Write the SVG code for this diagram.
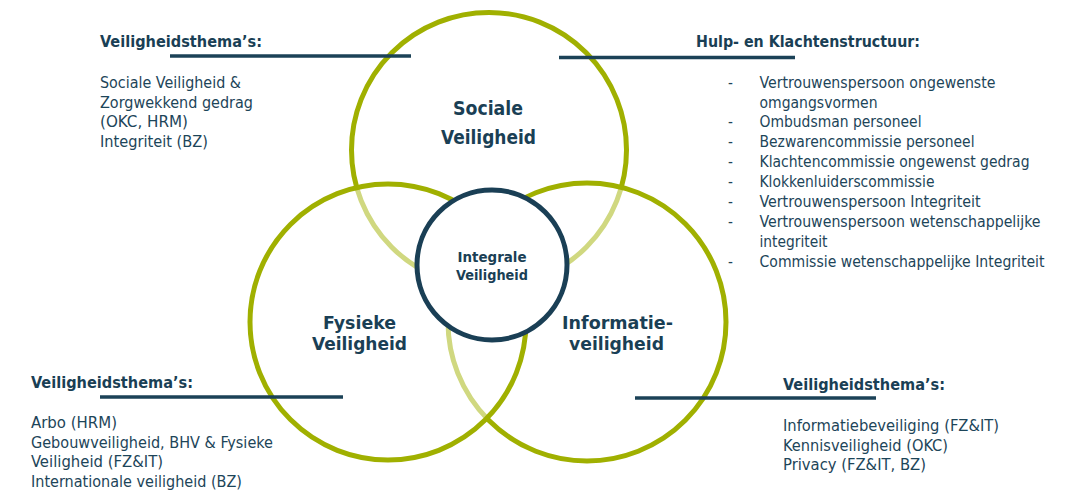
<svg xmlns="http://www.w3.org/2000/svg" width="1087" height="493" viewBox="0 0 1087 493">
  <style>
    text { font-family: "DejaVu Sans", Verdana, sans-serif; font-stretch: condensed; fill: #1d4559; }
    .body { font-size: 15px; }
    .head { font-size: 15px; font-weight: bold; fill: #1a3f55; }
    .big { font-size: 19px; font-weight: bold; fill: #1a3f55; text-anchor: middle; }
    .mid { font-size: 17.5px; font-weight: bold; fill: #1a3f55; text-anchor: middle; }
    .small { font-size: 13.5px; font-weight: bold; fill: #1a3f55; text-anchor: middle; }
    .ring { fill: #ffffff; fill-opacity: 0.5; stroke: #a0b000; stroke-width: 5; }
    .core { fill: #ffffff; stroke: #1a3f55; stroke-width: 5; }
    .lead { stroke: #1b4257; stroke-width: 3.5; fill: none; }
  </style>

  <rect width="1087" height="493" fill="#ffffff"/>

  <!-- rings: each translucent white fill softens the arcs of rings drawn before it -->
  <g id="ring-sociaal">
    <circle class="ring" cx="489" cy="150" r="137.5"/>
  </g>
  <g id="ring-informatie">
    <circle class="ring" cx="587" cy="322" r="139"/>
  </g>
  <g id="ring-fysiek">
    <circle class="ring" cx="388" cy="322" r="138"/>
  </g>
  <g id="core-integraal">
    <circle class="core" cx="492" cy="265" r="75"/>
    <text class="small" x="492" y="262" textLength="69" lengthAdjust="spacingAndGlyphs">Integrale</text>
    <text class="small" x="492" y="279.5" textLength="72" lengthAdjust="spacingAndGlyphs">Veiligheid</text>
  </g>

  <!-- ring titles -->
  <g id="label-sociaal">
    <text class="big" x="488" y="115" textLength="70" lengthAdjust="spacingAndGlyphs">Sociale</text>
    <text class="big" x="488.5" y="144" textLength="95" lengthAdjust="spacingAndGlyphs">Veiligheid</text>
  </g>
  <g id="label-fysiek">
    <text class="mid" x="359.5" y="328.5" textLength="73" lengthAdjust="spacingAndGlyphs">Fysieke</text>
    <text class="mid" x="359.5" y="349.5" textLength="95" lengthAdjust="spacingAndGlyphs">Veiligheid</text>
  </g>
  <g id="label-informatie">
    <text class="mid" x="617.5" y="328.5" textLength="111" lengthAdjust="spacingAndGlyphs">Informatie-</text>
    <text class="mid" x="616.5" y="349.5" textLength="95" lengthAdjust="spacingAndGlyphs">veiligheid</text>
  </g>

  <!-- leader lines from the text blocks into the rings -->
  <g id="connectors">
    <line class="lead" x1="170" y1="56" x2="411" y2="56"/>
    <line class="lead" x1="559" y1="57.5" x2="795" y2="57.5"/>
    <line class="lead" x1="100" y1="397" x2="343" y2="397"/>
    <line class="lead" x1="635" y1="398" x2="876" y2="398"/>
  </g>

  <!-- text blocks -->
  <g id="thema-sociaal">
    <text class="head" x="100" y="47" textLength="162" lengthAdjust="spacingAndGlyphs">Veiligheidsthema’s:</text>
    <text class="body" x="100" y="88.3" textLength="141" lengthAdjust="spacingAndGlyphs">Sociale Veiligheid &amp;</text>
    <text class="body" x="100" y="107.5" textLength="153" lengthAdjust="spacingAndGlyphs">Zorgwekkend gedrag</text>
    <text class="body" x="100" y="127" textLength="88" lengthAdjust="spacingAndGlyphs">(OKC, HRM)</text>
    <text class="body" x="100" y="146.5" textLength="108" lengthAdjust="spacingAndGlyphs">Integriteit (BZ)</text>
  </g>

  <g id="hulp-klachten">
    <text class="head" x="696" y="47.3" textLength="224" lengthAdjust="spacingAndGlyphs">Hulp- en Klachtenstructuur:</text>
    <g class="body">
      <text class="body" x="728" y="88.3">-</text>
      <text class="body" x="759.5" y="88.3" textLength="236" lengthAdjust="spacingAndGlyphs">Vertrouwenspersoon ongewenste</text>
      <text class="body" x="759.5" y="107.5" textLength="118" lengthAdjust="spacingAndGlyphs">omgangsvormen</text>
      <text class="body" x="728" y="127.3">-</text>
      <text class="body" x="759.5" y="127.3" textLength="162" lengthAdjust="spacingAndGlyphs">Ombudsman personeel</text>
      <text class="body" x="728" y="147.2">-</text>
      <text class="body" x="759.5" y="147.2" textLength="215" lengthAdjust="spacingAndGlyphs">Bezwarencommissie personeel</text>
      <text class="body" x="728" y="167.2">-</text>
      <text class="body" x="759.5" y="167.2" textLength="270" lengthAdjust="spacingAndGlyphs">Klachtencommissie ongewenst gedrag</text>
      <text class="body" x="728" y="187.2">-</text>
      <text class="body" x="759.5" y="187.2" textLength="175" lengthAdjust="spacingAndGlyphs">Klokkenluiderscommissie</text>
      <text class="body" x="728" y="207.2">-</text>
      <text class="body" x="759.5" y="207.2" textLength="221" lengthAdjust="spacingAndGlyphs">Vertrouwenspersoon Integriteit</text>
      <text class="body" x="728" y="227.2">-</text>
      <text class="body" x="759.5" y="227.2" textLength="281" lengthAdjust="spacingAndGlyphs">Vertrouwenspersoon wetenschappelijke</text>
      <text class="body" x="759.5" y="246.7" textLength="68" lengthAdjust="spacingAndGlyphs">integriteit</text>
      <text class="body" x="728" y="266.7">-</text>
      <text class="body" x="759.5" y="266.7" textLength="285" lengthAdjust="spacingAndGlyphs">Commissie wetenschappelijke Integriteit</text>
    </g>
  </g>

  <g id="thema-fysiek">
    <text class="head" x="31" y="387.7" textLength="162" lengthAdjust="spacingAndGlyphs">Veiligheidsthema’s:</text>
    <text class="body" x="31" y="428.3" textLength="86" lengthAdjust="spacingAndGlyphs">Arbo (HRM)</text>
    <text class="body" x="31" y="447.5" textLength="242" lengthAdjust="spacingAndGlyphs">Gebouwveiligheid, BHV &amp; Fysieke</text>
    <text class="body" x="31" y="467" textLength="132" lengthAdjust="spacingAndGlyphs">Veiligheid (FZ&amp;IT)</text>
    <text class="body" x="31" y="486.5" textLength="211" lengthAdjust="spacingAndGlyphs">Internationale veiligheid (BZ)</text>
  </g>

  <g id="thema-informatie">
    <text class="head" x="783" y="390" textLength="162" lengthAdjust="spacingAndGlyphs">Veiligheidsthema’s:</text>
    <text class="body" x="783" y="430.7" textLength="216" lengthAdjust="spacingAndGlyphs">Informatiebeveiliging (FZ&amp;IT)</text>
    <text class="body" x="783" y="450.5" textLength="165" lengthAdjust="spacingAndGlyphs">Kennisveiligheid (OKC)</text>
    <text class="body" x="783" y="470" textLength="143" lengthAdjust="spacingAndGlyphs">Privacy (FZ&amp;IT, BZ)</text>
  </g>
</svg>
